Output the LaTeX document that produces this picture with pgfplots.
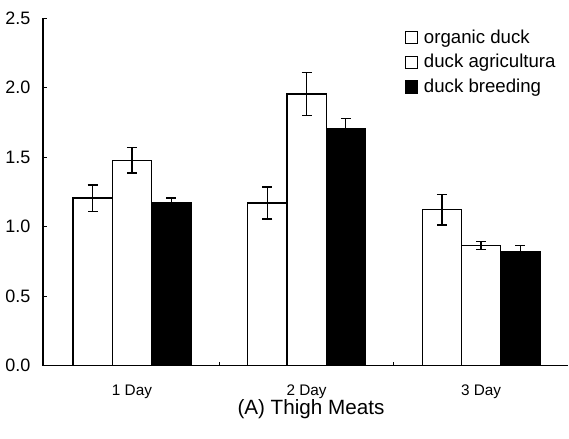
\documentclass[border=0pt]{standalone}
\usepackage{fontspec}
\setmainfont{Liberation Sans}
\usepackage{pgfplots}
\pgfplotsset{compat=1.18}
\begin{document}
\begin{tikzpicture}
\begin{axis}[
  scale only axis,
  width=394.5pt, height=261pt,
  xmin=-0.51, xmax=2.5,
  ymin=0, ymax=2.5,
  axis x line=bottom, axis y line=left,
  axis line style={-, line width=0.9pt},
  ybar=0pt, bar width=0.225,
  ytick={0,0.5,1,1.5,2,2.5},
  yticklabel style={/pgf/number format/fixed, /pgf/number format/fixed zerofill, /pgf/number format/precision=1, font=\fontsize{13.5}{15}\selectfont, xshift=-6pt},
  /pgf/number format/assume math mode=true,
  tick align=inside,
  major tick length=3pt,
  tick style={black, line width=0.6pt},
  xtick={0.5,1.5}, xticklabels={},
  extra x ticks={0,1,2},
  extra x tick labels={1 Day,2 Day,3 Day},
  extra x tick style={major tick length=0pt, xticklabel style={font=\fontsize{11.5}{13}\selectfont, yshift=-11pt}},
  xlabel={(A) Thigh Meats},
  xlabel style={font=\fontsize{15.5}{17}\selectfont, at={(axis description cs:0.51,0)}, anchor=center, yshift=-33pt},
  legend style={draw=none, fill=none, at={(0.688,0.975)}, anchor=north west, font=\fontsize{14}{16}\selectfont, row sep=3pt, inner sep=0pt},
  legend cell align=left,
  legend image code/.code={\draw[#1, line width=0.9pt] (0pt,-4.5pt) rectangle (9pt,4.5pt); \path[draw=none, fill=none] (0pt,0pt) -- (12pt,0pt);},
  error bars/y dir=both, error bars/y explicit,
  error bars/error mark options={rotate=90, mark size=3.75pt, line width=1pt, black},
  error bars/error bar style={line width=1pt, black},
]
\addplot[draw=black, fill=white, line width=1pt] coordinates {
  (0,1.205) +- (0,0.095)
  (1,1.17) +- (0,0.115)
  (2,1.122) +- (0,0.11)
};
\addlegendentry{organic duck}
\addplot[draw=black, fill=white, line width=1pt] coordinates {
  (0,1.476) +- (0,0.092)
  (1,1.953) +- (0,0.155)
  (2,0.864) +- (0,0.03)
};
\addlegendentry{duck agricultura}
\addplot[draw=black, fill=black, line width=1pt] coordinates {
  (0,1.17) +- (0,0.035)
  (1,1.707) +- (0,0.072)
  (2,0.819) +- (0,0.045)
};
\addlegendentry{duck breeding}
\end{axis}
\path (current axis.south west) ++(-32.25pt,-54.75pt) rectangle ++(426.75pt,329.25pt);
\end{tikzpicture}
\end{document}
